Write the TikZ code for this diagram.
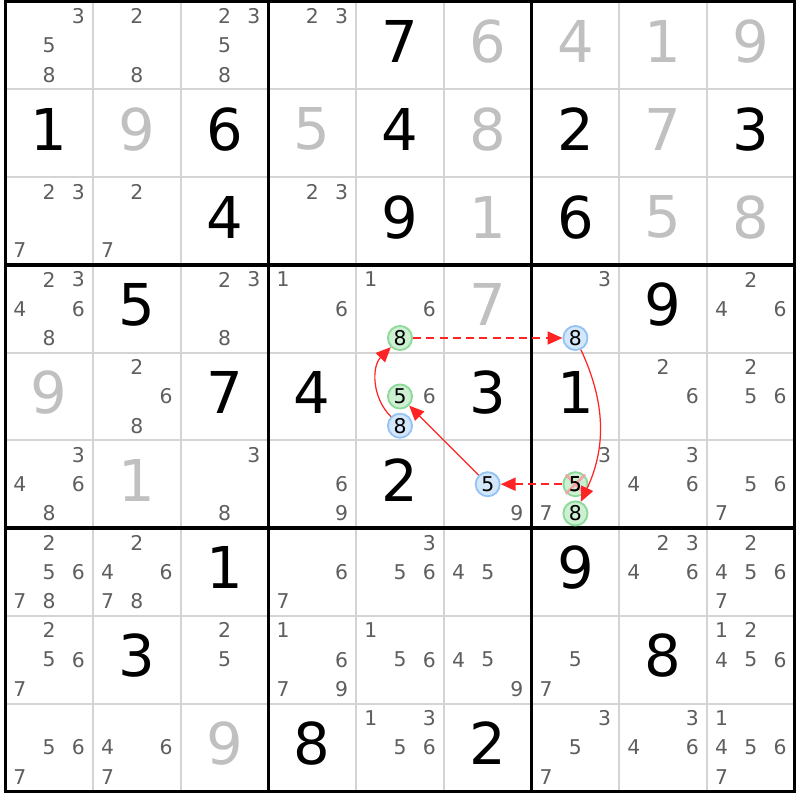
\documentclass[tikz,border=0pt]{standalone}
\usepackage{fontspec}
\setmainfont{DejaVu Sans}
\usepackage{xcolor}
\usepackage{tikz}
\usetikzlibrary{arrows.meta, shapes.misc}
\definecolor{colorLine}{HTML}{D4D4D4}
\definecolor{colorCand}{HTML}{5E5E5E}
\definecolor{colorSolved}{HTML}{C0C0C0}
\definecolor{colorOnFill}{HTML}{CDEFD2}
\definecolor{colorOnDraw}{HTML}{8CD99A}
\definecolor{colorOffFill}{HTML}{D3E6FA}
\definecolor{colorOffDraw}{HTML}{94C4F4}
\definecolor{colorLink}{HTML}{FF2424}
\definecolor{colorCross}{HTML}{F5A3A3}

\tikzset{
    given/.style={font=\fontsize{18.7}{20}\selectfont, inner sep=0pt, yshift=0.45mm},
    solved/.style={given, text=colorSolved},
    cand/.style={font=\fontsize{6.6}{7}\selectfont, text=colorCand, inner sep=0pt},
    candon/.style={cand, text=black, circle, minimum size=0.275cm, draw=colorOnDraw, fill=colorOnFill, line width=0.6pt},
    candoff/.style={candon, draw=colorOffDraw, fill=colorOffFill},
    link/.style={colorLink, line width=0.4pt, -{Triangle[length=4.8pt, width=4.2pt]}},
    weaklink/.style={link, line width=0.6pt, dash pattern=on 2.6pt off 1.7pt}
}

\newcommand{\given}[3]{\node[given] (r#1c#2) at ({#2-0.5}, {9.5-#1}) {#3};}
\newcommand{\solved}[3]{\node[solved] (r#1c#2) at ({#2-0.5}, {9.5-#1}) {#3};}
\newcommand{\cands}[3]{\foreach \k in {#3}{\node[cand] (r#1c#2n\k) at ({#2-0.5+(mod(\k-1,3)-1)/3}, {9.5-#1-(div(\k-1,3)-1)/3}) {\k};}}
\newcommand{\pickcand}[4]{\node[#4] (r#1c#2n#3) at ({#2-0.5+(mod(#3-1,3)-1)/3}, {9.5-#1-(div(#3-1,3)-1)/3}) {#3};}

\begin{document}
\begin{tikzpicture}
        \useasboundingbox (-0.06,-0.10) rectangle (9.06,9.02);
        \draw[step=1cm, colorLine, line width=0.65pt] (0,0) grid (9,9);
        \draw[step=3cm, black, line width=1.1pt, line cap=rect] (0,0) grid (9,9);

        \cands{1}{1}{3,5,8} \cands{1}{2}{2,8} \cands{1}{3}{2,3,5,8} \cands{1}{4}{2,3} \given{1}{5}{7}
        \solved{1}{6}{6} \solved{1}{7}{4} \solved{1}{8}{1} \solved{1}{9}{9}

        \given{2}{1}{1} \solved{2}{2}{9} \given{2}{3}{6} \solved{2}{4}{5} \given{2}{5}{4}
        \solved{2}{6}{8} \given{2}{7}{2} \solved{2}{8}{7} \given{2}{9}{3}

        \cands{3}{1}{2,3,7} \cands{3}{2}{2,7} \given{3}{3}{4} \cands{3}{4}{2,3} \given{3}{5}{9}
        \solved{3}{6}{1} \given{3}{7}{6} \solved{3}{8}{5} \solved{3}{9}{8}

        \cands{4}{1}{2,3,4,6,8} \given{4}{2}{5} \cands{4}{3}{2,3,8} \cands{4}{4}{1,6} \cands{4}{5}{1,6}
        \solved{4}{6}{7} \cands{4}{7}{3} \given{4}{8}{9} \cands{4}{9}{2,4,6}

        \solved{5}{1}{9} \cands{5}{2}{2,6,8} \given{5}{3}{7} \given{5}{4}{4} \cands{5}{5}{6}
        \given{5}{6}{3} \given{5}{7}{1} \cands{5}{8}{2,6} \cands{5}{9}{2,5,6}

        \cands{6}{1}{3,4,6,8} \solved{6}{2}{1} \cands{6}{3}{3,8} \cands{6}{4}{6,9} \given{6}{5}{2}
        \cands{6}{6}{9} \cands{6}{7}{3,7} \cands{6}{8}{3,4,6} \cands{6}{9}{5,6,7}

        \cands{7}{1}{2,5,6,7,8} \cands{7}{2}{2,4,6,7,8} \given{7}{3}{1} \cands{7}{4}{6,7} \cands{7}{5}{3,5,6}
        \cands{7}{6}{4,5} \given{7}{7}{9} \cands{7}{8}{2,3,4,6} \cands{7}{9}{2,4,5,6,7}

        \cands{8}{1}{2,5,6,7} \given{8}{2}{3} \cands{8}{3}{2,5} \cands{8}{4}{1,6,7,9} \cands{8}{5}{1,5,6}
        \cands{8}{6}{4,5,9} \cands{8}{7}{5,7} \given{8}{8}{8} \cands{8}{9}{1,2,4,5,6}

        \cands{9}{1}{5,6,7} \cands{9}{2}{4,6,7} \solved{9}{3}{9} \given{9}{4}{8} \cands{9}{5}{1,3,5,6}
        \given{9}{6}{2} \cands{9}{7}{3,5,7} \cands{9}{8}{3,4,6} \cands{9}{9}{1,4,5,6,7}

        \pickcand{4}{5}{8}{candon}
        \pickcand{4}{7}{8}{candoff}
        \pickcand{5}{5}{5}{candon}
        \pickcand{5}{5}{8}{candoff}
        \pickcand{6}{6}{5}{candoff}
        \pickcand{6}{7}{5}{candon}
        \pickcand{6}{7}{8}{candon}
        \node[cross out, draw=colorCross, line width=0.8pt, minimum size=0.19cm, inner sep=0pt] (cross) at (r6c7n5) {};
        \node[cand, text=black] (r6c7n5text) at (r6c7n5) {5};

        \draw[weaklink] (r4c5n8) -- (r4c7n8);
        \draw[link] (r4c7n8) to[bend left=25] (r6c7n8);
        \draw[weaklink] (r6c7n5) -- (r6c6n5);
        \draw[link] (r6c6n5) -- (r5c5n5);
        \draw[link] (r5c5n8) to[out=135, in=-135] (r4c5n8);
\end{tikzpicture}
\end{document}
